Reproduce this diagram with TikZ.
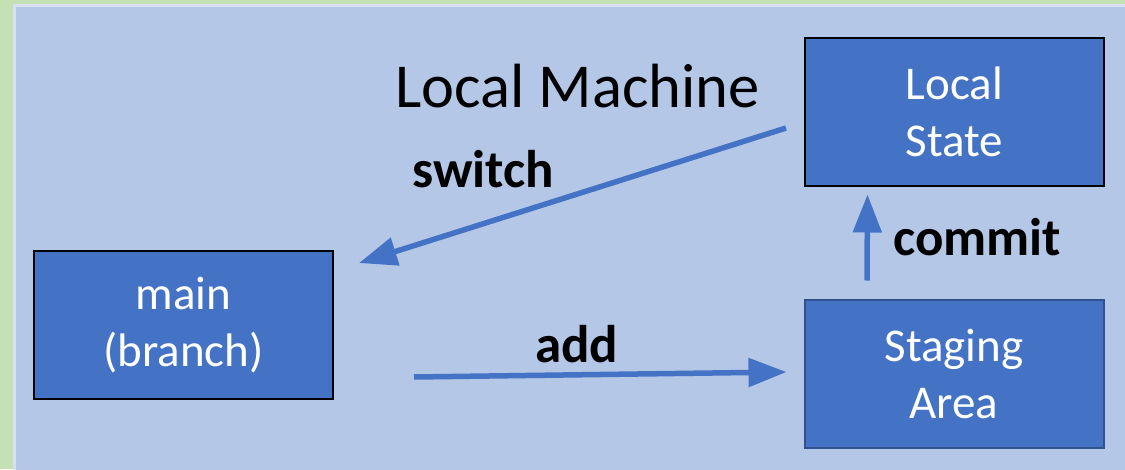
\documentclass[tikz,border=0pt]{standalone}
\usepackage{fontspec}
\setmainfont{Carlito}
\usetikzlibrary{arrows.meta,calc}
\definecolor{leaf}{HTML}{C5E0B4}
\definecolor{panel}{HTML}{B4C7E7}
\definecolor{panelrim}{HTML}{D6E0F1}
\definecolor{boxblue}{HTML}{4472C4}
\definecolor{boxrim}{HTML}{2F528F}
\tikzset{
  stagebox/.style={rectangle, draw=black, line width=2pt, fill=boxblue,
    text=white, align=center, inner sep=0pt,
    minimum width=299pt, minimum height=148pt,
    font=\fontsize{47}{57}\selectfont},
  flow/.style={draw=boxblue, line width=5.5pt,
    -{Triangle[length=38pt,width=28pt]}},
  verb/.style={anchor=base west, inner sep=0pt,
    font=\fontsize{53}{60}\selectfont\bfseries}
}
\begin{document}
\begin{tikzpicture}[x=1pt,y=-1pt]
  \useasboundingbox (0,0) rectangle (1125,469);
  % page background and panel
  \fill[leaf] (0,0) rectangle (1125,469);
  \filldraw[fill=panel, draw=panelrim, line width=3pt] (14,5) rectangle (1140,480);

  \node[anchor=base west, inner sep=0pt, font=\fontsize{62.5}{72}\selectfont]
    (title) at (395,107) {Local Machine};

  % the three areas
  \node[stagebox] (ls) at (954.5,111.5) {Local\\State};
  \node[stagebox, draw=boxrim] (sa) at (954,373.5) {Staging\\Area};
  \node[stagebox] (main) at (183.5,325) {main\\(branch)};

  % transitions between them
  \draw[flow] ([shift={(-18,16.5)}]ls.west) -- ([shift={(25,13)}]main.north east);
  \draw[flow] ([shift={(80,52)}]main.east) -- ([shift={(-17,-1.5)}]sa.west);
  \draw[flow] ([shift={(-87,-18)}]sa.north) -- ([shift={(-87,8)}]ls.south);

  \node[verb] (switch) at (412,187) {switch};
  \node[verb] (add) at (535,362) {add};
  \node[verb] (commit) at (893,255) {commit};
\end{tikzpicture}
\end{document}
